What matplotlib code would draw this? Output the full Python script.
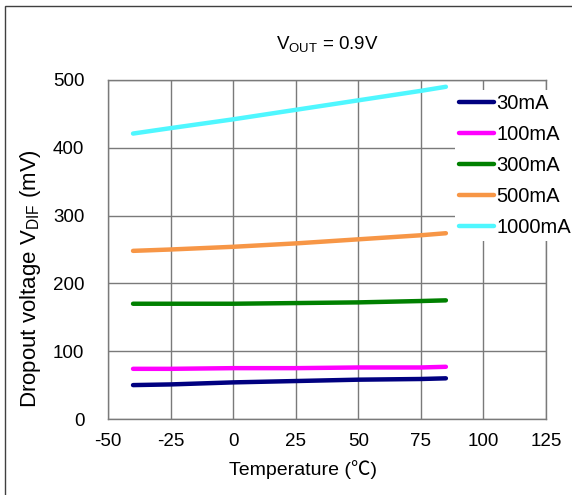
import matplotlib
matplotlib.use("Agg")
from matplotlib import pyplot as plt
from matplotlib.patches import Rectangle
import numpy

plt.rcParams['font.family'] = ['Liberation Sans', 'Noto Sans CJK JP', 'DejaVu Sans']
plt.rcParams['mathtext.fontset'] = 'custom'
plt.rcParams['mathtext.rm'] = 'Liberation Sans'
plt.rcParams['axes.unicode_minus'] = False

# dropout voltage (mV) vs ambient temperature, one curve per load current
temps = [-40, -25, 0, 25, 50, 75, 85]
vdif_30ma = [50, 51, 54, 56, 58, 59, 60]
vdif_100ma = [74, 74, 75, 75, 76, 76, 77]
vdif_300ma = [170, 170, 170, 171, 172, 174, 175]
vdif_500ma = [248, 250, 254, 259, 265, 271, 274]
vdif_1000ma = [421, 429, 442, 456, 470, 484, 490]

labels = ['30mA', '100mA', '300mA', '500mA', '1000mA']
colors = ['#000080', '#FF00FF', '#008000', '#F79646', '#4FF7FF']
series = [vdif_30ma, vdif_100ma, vdif_300ma, vdif_500ma, vdif_1000ma]

fig = plt.figure(figsize=(5.72, 4.95), dpi=100)
ax = fig.add_axes([108 / 572, 1 - 419 / 495, (546 - 108) / 572, (419 - 80) / 495])

for vals, col, lab in zip(series, colors, labels):
    ax.plot(temps, vals, color=col, lw=3.2, solid_capstyle='round', label=lab, zorder=3)

ax.set_xlim(-50, 125)
ax.set_ylim(0, 500)
ax.set_xticks(numpy.arange(-50, 126, 25))
ax.set_yticks(numpy.arange(0, 501, 100))
ax.grid(True, color='#7a7a7a', lw=1.0)
for sp in ax.spines.values():
    sp.set_color('#7a7a7a')
    sp.set_linewidth(1.0)
ax.tick_params(axis='both', length=0, labelsize=13.5, colors='#000000')
ax.tick_params(axis='y', pad=17)
ax.tick_params(axis='x', pad=10)

fig.text(327 / 572, 1 - 45 / 495, r'V$_\mathregular{OUT}$ = 0.9V', ha='center', va='center', fontsize=13.5)
fig.text(303 / 572, 1 - 470 / 495, 'Temperature (℃)', ha='center', va='center', fontsize=14)
fig.text(31 / 572, 1 - 279 / 495, r'Dropout voltage V$_\mathregular{DIF}$ (mV)', ha='center', va='center',
         rotation=90, fontsize=16)

leg = ax.legend(loc='upper left', bbox_to_anchor=(455 / 572, 1 - 90 / 495), bbox_transform=fig.transFigure,
                frameon=True, fancybox=False, framealpha=1, facecolor='white', edgecolor='none',
                fontsize=14.5, handlelength=1.75, handletextpad=0.1, labelspacing=0.6, borderpad=0.2,
                borderaxespad=0)
leg.set_zorder(5)

# outer frame of the figure
fig.patches.append(Rectangle((5 / 572, -0.1), 1.2, 1.1 - 6 / 495, transform=fig.transFigure,
                             fill=False, edgecolor='#404040', lw=1.0))

plt.savefig('out.png', dpi=100)
